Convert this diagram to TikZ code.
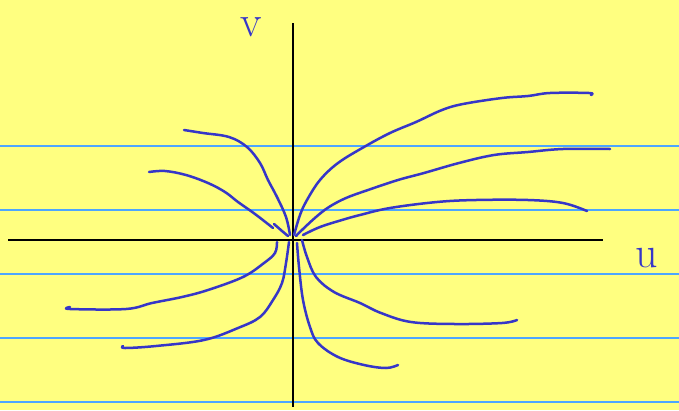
\documentclass[tikz,border=0pt]{standalone}
\definecolor{paper}{HTML}{FFFF80}
\definecolor{rule}{HTML}{4DA6FF}
\definecolor{ink}{HTML}{3636C8}
\tikzset{
  rulel/.style={rule, line width=1.3pt},
  axis/.style={black, line width=2.2pt},
  traj/.style={ink, line width=2.5pt, line cap=round, line join=round},
  lbl/.style={ink, font=\fontsize{44}{44}\selectfont, inner sep=0pt}
}
\begin{document}
\begin{tikzpicture}[x=1pt,y=-1pt]
\fill[paper] (0,0) rectangle (679,410);
\useasboundingbox (0,0) rectangle (679,410);
\foreach \yy in {146,210,274,338,402} \draw[rulel] (0,\yy) -- (679,\yy);
\coordinate (xl) at (8,240); \coordinate (xr) at (603,240);
\coordinate (yt) at (293,23); \coordinate (yb) at (293,407);
\draw[axis] (xl) -- (xr);
\draw[axis] (yt) -- (yb);
\node[lbl] (v) at (251,27) {v};
\node[lbl] (u) at (647,258) {u};
% upper right
\draw[traj] plot[smooth, tension=0.6] coordinates {(294,235) (300,215) (307,200) (320,180) (338,163) (364,147) (390,133) (416,122) (442,110) (463,104) (502,98) (528,96) (550,93) (589,93) (591,95)};
\draw[traj] plot[smooth, tension=0.6] coordinates {(296,236) (303,229) (316,217) (329,207) (346,198) (368,190) (398,180) (424,173) (459,163) (494,155) (528,152) (563,149) (610,149)};
\draw[traj] plot[smooth, tension=0.6] coordinates {(303,235) (320,227) (342,220) (360,215) (390,208) (437,202) (476,200) (528,200) (563,203) (587,211)};
% upper left
\draw[traj] plot[smooth, tension=0.6] coordinates {(184,130) (203,133) (229,137) (247,147) (260,163) (268,180) (277,197) (286,217) (290,235)};
\draw[traj] plot[smooth, tension=0.6] coordinates {(149,172) (165,171) (186,175) (208,183) (225,192) (238,202) (255,214) (273,228)};
\draw[traj] (274,224) -- (282,231) -- (288,236);
% lower left
\draw[traj] plot[smooth, tension=0.6] coordinates {(277,242) (275,253) (264,263) (243,277) (208,290) (182,297) (152,303) (126,309) (70,309) (70,307)};
\draw[traj] plot[smooth, tension=0.6] coordinates {(289,242) (286,263) (282,283) (273,300) (260,317) (238,328) (204,340) (156,346) (125,348) (123,346)};
% lower right
\draw[traj] plot[smooth, tension=0.6] coordinates {(302,240) (307,257) (316,277) (334,292) (360,303) (381,313) (411,322) (455,324) (502,323) (517,320)};
\draw[traj] plot[smooth, tension=0.6] coordinates {(297,243) (299,267) (303,300) (310,327) (318,343) (338,357) (364,365) (386,368) (398,365)};
\end{tikzpicture}
\end{document}
